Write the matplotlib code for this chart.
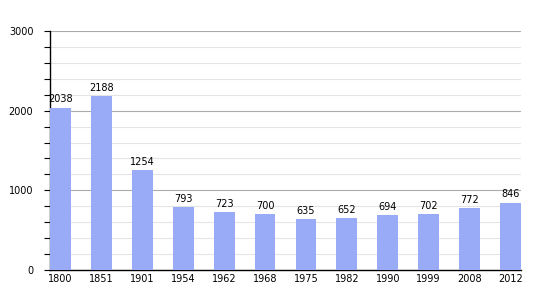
import numpy as np
import matplotlib.pyplot as plt

# population data
years = ['1800', '1851', '1901', '1954', '1962', '1968', '1975', '1982', '1990', '1999', '2008', '2012']
population = [2038, 2188, 1254, 793, 723, 700, 635, 652, 694, 702, 772, 846]

fig = plt.figure(figsize=(5.5, 3), dpi=100)
ax = fig.add_axes([50/550, 30/300, 471/550, 239/300])

x = np.arange(len(years))
ax.bar(x, population, width=0.51, color='#99aaf7', zorder=3)

for xi, v in zip(x, population):
    ax.text(xi, v + 40, str(v), ha='center', va='bottom', fontsize=7, zorder=4)

ax.set_xlim(-0.26, len(years) - 1 + 0.26)
ax.set_ylim(0, 3000)
ax.set_xticks(x)
ax.set_xticklabels(years, fontsize=7)
ax.set_yticks([0, 1000, 2000, 3000])
ax.set_yticklabels(['0', '1000', '2000', '3000'], fontsize=7)
ax.set_yticks(np.arange(0, 3001, 200), minor=True)
ax.tick_params(axis='x', length=0, pad=3)
ax.tick_params(axis='y', which='major', length=4, width=0.8, pad=8)
ax.tick_params(axis='y', which='minor', length=4, width=0.8)

ax.grid(axis='y', which='major', color='#aaaaaa', linewidth=0.8, zorder=0)
ax.grid(axis='y', which='minor', color='#e4e4e4', linewidth=0.8, zorder=0)

ax.spines['top'].set_visible(False)
ax.spines['right'].set_visible(False)
ax.spines['left'].set_linewidth(1)
ax.spines['bottom'].set_linewidth(1)

plt.savefig('out.png', dpi=100)
